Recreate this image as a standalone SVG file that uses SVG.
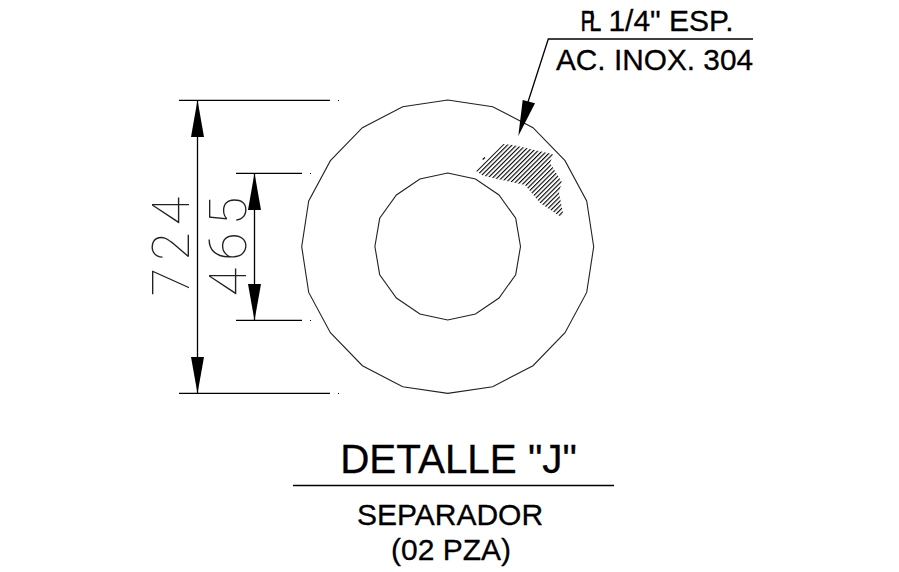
<svg xmlns="http://www.w3.org/2000/svg" width="899" height="572" viewBox="0 0 899 572">
<style>
.l{fill:none;stroke:#000;stroke-width:1.3}
.s{fill:none;stroke:#222;stroke-width:1.1}
.a{fill:#000}
.d{fill:#000}
.t{font-family:"Liberation Sans",Arial,sans-serif;fill:#000;stroke:#000;stroke-width:.3;text-anchor:middle}
.p{font-family:"Liberation Sans",Arial,sans-serif;fill:#000;stroke:#000;stroke-width:.4;font-size:29px;letter-spacing:-7.6px}
.dim{font-family:"Roboto","Inter",sans-serif;font-weight:100;font-size:52px;letter-spacing:7px;fill:#222;text-anchor:middle}
</style>
<defs>
<pattern id="h" patternUnits="userSpaceOnUse" width="3.2" height="6" patternTransform="rotate(45)">
<rect x="0" y="0" width="1.1" height="6" fill="#000"/>
</pattern>
</defs>
<rect width="899" height="572" fill="#fff"/>
<g id="ring-outer"><polygon class="s" points="447.7,100 492.7,106.7 533,127.7 565,160.7 586.7,201 593.7,246.7 586.7,292.4 565,332.7 533,365.7 492.7,386.7 447.7,393.4 402.7,386.7 362.4,365.7 330.4,332.7 308.7,292.4 301.7,246.7 308.7,201 330.4,160.7 362.4,127.7 402.7,106.7"/></g>
<g id="ring-inner"><polygon class="s" points="447.7,173 475.5,179 499,195 515.7,218.3 520.5,246.5 515.7,274.7 499,298 475.5,314 447.7,320 419.9,314 396.4,298 379.7,274.7 374.9,246.5 379.7,218.3 396.4,195 419.9,179"/></g>
<g id="hatch"><polygon fill="url(#h)" points="476,171 503.300,144 513,145 553,154.300 550,163 561.700,181.700 559,193 563,213 560.700,216.700 540,203 525,185 483,175.700"/>
<path d="M482.700 159.500L485 157.500" stroke="#000" stroke-width="1.100"/></g>
<g id="connectors">
<path class="l" d="M179 100.300H330M179 393.300H330M236 173.300H302M236 320.300H302M197.500 100V393M254.500 173V320"/>
<polygon class="a" points="197.500,100 191,137 204,137"/>
<polygon class="a" points="197.500,393.500 191,357 204,357"/>
<polygon class="a" points="254.500,173 248,210 261,210"/>
<polygon class="a" points="254.500,320.500 248,284 261,284"/>
<rect class="d" x="338" y="100" width="1" height="1"/>
<rect class="d" x="338" y="393" width="1" height="1"/>
<rect class="d" x="310" y="173" width="1" height="1"/>
<rect class="d" x="310" y="320" width="1" height="1"/>
<path class="l" d="M753 39H548.300L528 102"/>
<polygon class="a" points="518.300,136 522.700,100 535,103.300"/>
<path class="l" d="M293 485.500H614"/>
</g>
<g id="dim-724"><text class="dim" transform="translate(189 243) rotate(-90)">724</text></g>
<g id="dim-465"><text class="dim" transform="translate(246 243) rotate(-90)">465</text></g>
<g id="note">
<text class="p" transform="translate(580.500 31) scale(.75 1)">PL</text>
<text class="t" x="671" y="31" font-size="30">1/4" ESP.</text>
<text class="t" x="654.500" y="70" font-size="29.800">AC. INOX. 304</text>
</g>
<g id="title">
<text class="t" x="458.500" y="473" font-size="40.400">DETALLE "J"</text>
<text class="t" x="450" y="525" font-size="30">SEPARADOR</text>
<text class="t" x="451" y="560" font-size="30">(02 PZA)</text>
</g>
</svg>
